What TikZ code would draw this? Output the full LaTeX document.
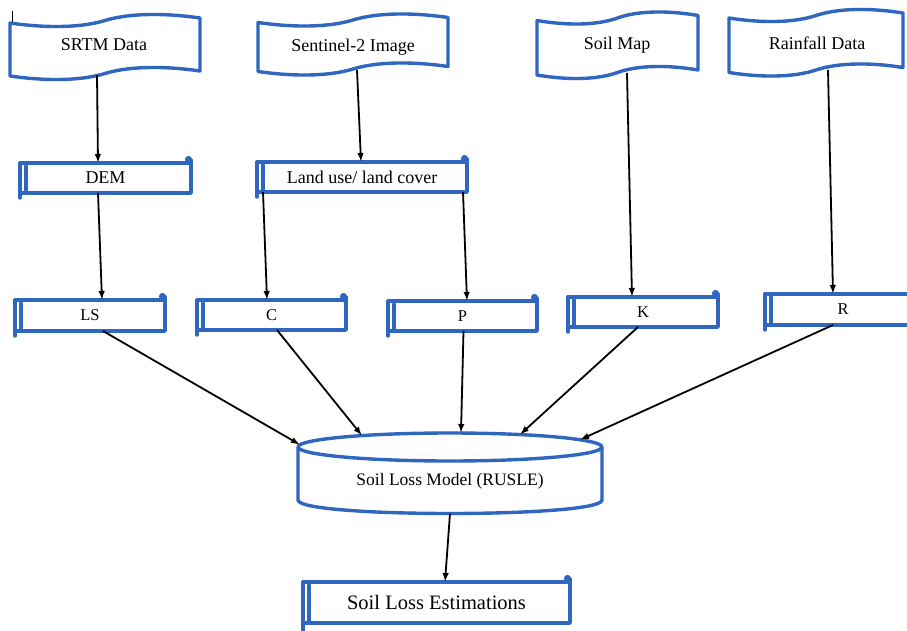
\documentclass[tikz,border=0pt]{standalone}
\usepackage{fontspec}
\setmainfont{Liberation Serif}
\usetikzlibrary{arrows.meta,calc}
\definecolor{blu}{RGB}{47,103,192}
\newcommand\tapepath[4]{%
  \pgfmathsetmacro\tpw{#2-#1}%
  \pgfmathsetmacro\tpm{(#1+#2)/2}%
  \draw[blueline] (#1,{#3+2.5}) .. controls ({#1+0.2*\tpw},{#3+8}) and ({\tpm-0.12*\tpw},{#3+7}) .. (\tpm,#3)
    .. controls ({\tpm+0.12*\tpw},{#3-7}) and ({#2-0.2*\tpw},{#3-8}) .. (#2,{#3-2.5})
    -- (#2,{#4-2.5}) .. controls ({#2-0.2*\tpw},{#4-8}) and ({\tpm+0.12*\tpw},{#4-7}) .. (\tpm,#4)
    .. controls ({\tpm-0.12*\tpw},{#4+7}) and ({#1+0.2*\tpw},{#4+8}) .. (#1,{#4+2.5}) -- cycle;}
\begin{document}
\begin{tikzpicture}[x=1pt,y=-1pt,
  blueline/.style={draw=blu,line width=3.4pt,line join=round},
  scrollbox/.style={blueline,rectangle,inner sep=0pt,outer sep=0pt,font=\fontsize{16.5}{18}\selectfont},
  lbl/.style={inner sep=0pt,font=\fontsize{18}{20}\selectfont},
  arr/.style={-{Latex[length=9pt,width=6.5pt]},line width=1.8pt,black},
  scrolldeco/.style={blu,line width=3.4pt,line cap=round},
]
\useasboundingbox[fill=white] (0,0) rectangle (907,631);

% small stray mark at top left
\draw[black,line width=1pt] (12.5,11) -- (12.5,25);

% input tapes
\tapepath{10}{200}{20.5}{73.5}
\tapepath{258}{448}{20}{69}
\tapepath{537}{698}{18}{72.5}
\tapepath{729}{903}{15.5}{70}
\node[lbl] (srtm) at (104,45) {SRTM Data};
\node[lbl] (sent) at (353,47) {Sentinel-2 Image};
\node[lbl] (smap) at (617,45) {Soil Map};
\node[lbl] (rain) at (817,43) {Rainfall Data};
\coordinate (srtmb) at (97,75);
\coordinate (sentb) at (357,70);
\coordinate (smapb) at (627,73);
\coordinate (rainb) at (828,70);

% scroll boxes
\node[scrollbox,minimum width=171,minimum height=30,font=\fontsize{18}{20}\selectfont] (dem) at (105.5,178) {DEM};
\node[scrollbox,minimum width=210,minimum height=30,font=\fontsize{18}{20}\selectfont] (lu) at (362,177) {Land use/ land cover};
\node[scrollbox,minimum width=150,minimum height=31] (ls) at (90,315.5) {LS};
\node[scrollbox,minimum width=149,minimum height=30] (c) at (271.5,315) {C};
\node[scrollbox,minimum width=149,minimum height=30] (p) at (462.5,316) {P};
\node[scrollbox,minimum width=150,minimum height=30] (k) at (643,312) {K};
\node[scrollbox,minimum width=156,minimum height=31] (r) at (843,309.5) {R};
\node[scrollbox,minimum width=267,minimum height=41,font=\fontsize{20.5}{22}\selectfont] (sle) at (436.5,602.5) {Soil Loss Estimations};
\foreach \n/\ext in {dem/5,lu/5,ls/5,c/5,p/5,k/5,r/5,sle/8}{
  \draw[scrolldeco] (\n.north west) -- ([yshift=-\ext pt]\n.south west);
  \draw[scrolldeco] ([xshift=6pt,yshift=-3pt]\n.north west) -- ([xshift=6pt]\n.south west);
  \draw[scrolldeco] (\n.north east) -- ([yshift=3pt]\n.north east);
  \fill[blu] ([xshift=-2.5pt,yshift=3.5pt]\n.north east) circle[radius=3.6pt];
}

% cylinder
\draw[blueline] (298,447) -- (298,500) .. controls (298,518) and (602,518) .. (602,500) -- (602,447);
\draw[blueline] (450,447) ellipse[x radius=152,y radius=14];
\node[font=\fontsize{17.5}{19}\selectfont,inner sep=0pt] (slm) at (450,481) {Soil Loss Model (RUSLE)};
\coordinate (e1) at (300,444.7);
\coordinate (e2) at (362,435.6);
\coordinate (e3) at (461,433);
\coordinate (e4) at (520,434.6);
\coordinate (e5) at (580,439.7);
\coordinate (slmb) at (450,513.5);

% connectors
\draw[arr] (srtmb) -- ([xshift=-7.5pt]dem.north);
\draw[arr] (sentb) -- ([xshift=-1pt]lu.north);
\draw[arr] (smapb) -- ([xshift=-11pt]k.north);
\draw[arr] (rainb) -- ([xshift=-10pt]r.north);
\draw[arr] ([xshift=-7.5pt]dem.south) -- ([xshift=12pt]ls.north);
\draw[arr] ([xshift=-99pt]lu.south) -- ([xshift=-4.5pt]c.north);
\draw[arr] ([xshift=101pt]lu.south) -- ([xshift=4.5pt]p.north);
\draw[arr] ([xshift=13pt]ls.south) -- (e1);
\draw[arr] ([xshift=5.5pt]c.south) -- (e2);
\draw[arr] ([xshift=1pt]p.south) -- (e3);
\draw[arr] ([xshift=-5pt]k.south) -- (e4);
\draw[arr] ([xshift=-10pt]r.south) -- (e5);
\draw[arr] (slmb) -- ([xshift=8.5pt]sle.north);
\end{tikzpicture}
\end{document}
